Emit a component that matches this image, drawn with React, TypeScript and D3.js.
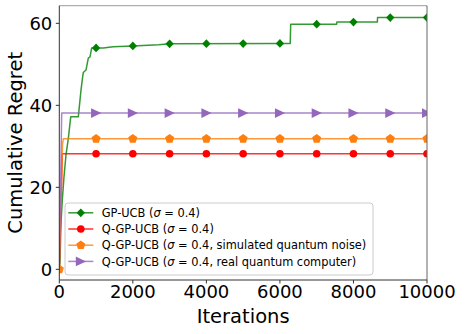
import React from 'react';
import * as d3 from 'd3';

// iterations / cumulative regret
const gpIters = [0, 19, 46, 82, 128, 182, 245, 310, 517, 590, 636, 653, 726, 789, 835, 881, 1000, 1200, 1460, 2000, 2700, 3000, 6000, 6280, 6293, 7544, 7548, 8650, 8655, 10000];
const gpVals = [0, 2, 11.3, 16.9, 22.6, 27.9, 31.9, 37.2, 37.2, 43.7, 47, 48, 48.6, 51.5, 51.8, 54, 54, 54.0, 54.3, 54.5, 54.8, 55.0, 55.1, 55.1, 59.8, 59.8, 60.3, 60.3, 61.4, 61.4];

const qIters = [0, 82, 10000];
const qVals = [0, 28.2, 28.2];

const qSimIters = [0, 87, 110, 10000];
const qSimVals = [0, 30.4, 31.85, 31.85];

const qRealIters = [0, 65, 10000];
const qRealVals = [0, 38.1, 38.1];

const markIters = [0, 1000, 2000, 3000, 4000, 5000, 6000, 7000, 8000, 9000, 10000];

const xTicks = [0, 2000, 4000, 6000, 8000, 10000];
const yTicks = [0, 20, 40, 60];

const labels = [
  ['GP-UCB (', '', ')'],
  ['Q-GP-UCB (', '', ')'],
  ['Q-GP-UCB (', ', simulated quantum noise', ')'],
  ['Q-GP-UCB (', ', real quantum computer', ')'],
];

const series = [
  { iters: gpIters, vals: gpVals, color: '#008000', marker: 'diamond', from: 1000 },
  { iters: qIters, vals: qVals, color: '#ff0000', marker: 'circle', from: 1000 },
  { iters: qSimIters, vals: qSimVals, color: '#ff7f0e', marker: 'pentagon', from: 0 },
  { iters: qRealIters, vals: qRealVals, color: '#9467bd', marker: 'triangle', from: 1000 },
];

const W = 465, H = 334;
const L = 59.3, R = 427, T = 5.7, B = 280;
const x = d3.scaleLinear().domain([0, 10000]).range([L, R]);
const y = d3.scaleLinear().domain([-2.6, 64.3]).range([B, T]);

function valueAt(iters: number[], vals: number[], it: number) {
  for (let i = 1; i < iters.length; i++) {
    if (it <= iters[i]) {
      const t = (it - iters[i - 1]) / (iters[i] - iters[i - 1]);
      return vals[i - 1] + t * (vals[i] - vals[i - 1]);
    }
  }
  return vals[vals.length - 1];
}

function Marker({ kind, cx, cy, color }: any) {
  if (kind === 'circle') return <circle cx={cx} cy={cy} r={3.8} fill={color} />;
  let pts: number[][] = [];
  if (kind === 'diamond') pts = [[0, -4.4], [4.2, 0], [0, 4.4], [-4.2, 0]];
  if (kind === 'pentagon') pts = d3.range(5).map((i) => {
    const a = -Math.PI / 2 + i * 2 * Math.PI / 5;
    return [4.8 * Math.cos(a), 4.8 * Math.sin(a)];
  });
  if (kind === 'triangle') pts = [[5.2, 0], [-5, -4.9], [-5, 4.9]];
  return <polygon points={pts.map((p) => `${cx + p[0]},${cy + p[1]}`).join(' ')} fill={color} />;
}

export default function App() {
  const line = d3.line<number>();
  const font = '"DejaVu Sans", sans-serif';
  const legX = 65, legY = 203, rowY = 212.8, rowStep = 16.2;

  return (
    <svg width={W} height={H} style={{ position: 'absolute', left: 0, top: 0, background: '#fff' }} fontFamily={font}>
      <defs>
        <clipPath id="plot">
          <rect x={L} y={T} width={R - L} height={B - T} />
        </clipPath>
      </defs>

      <g clipPath="url(#plot)">
        {series.map((s, i) => (
          <g key={i}>
            <path
              d={line(s.iters.map((it, j) => [x(it), y(s.vals[j])]) as any) || ''}
              fill="none" stroke={s.color} strokeWidth={1.5} strokeOpacity={0.8} strokeLinejoin="round"
            />
            {markIters.filter((m) => m >= s.from).map((m) => (
              <Marker key={m} kind={s.marker} cx={x(m)} cy={y(valueAt(s.iters, s.vals, m))} color={s.color} />
            ))}
          </g>
        ))}
      </g>

      {/* spines */}
      <line x1={L} x2={R} y1={T} y2={T} stroke="#9a9a9a" strokeWidth={1} />
      <line x1={R} x2={R} y1={T} y2={B} stroke="#666" strokeWidth={1} />
      <line x1={L} x2={L} y1={T} y2={B} stroke="#333" strokeWidth={1} />
      <line x1={L} x2={R} y1={B} y2={B} stroke="#333" strokeWidth={1} />

      {xTicks.map((t) => (
        <g key={t} transform={`translate(${x(t)},${B})`}>
          <line y2={3.5} stroke="#333" />
          <text y={17.5} textAnchor="middle" fontSize={18} fill="#000">{t}</text>
        </g>
      ))}
      {yTicks.map((t) => (
        <g key={t} transform={`translate(${L},${y(t)})`}>
          <line x2={-3.5} stroke="#333" />
          <text x={-7} dy="0.36em" textAnchor="end" fontSize={18} fill="#000">{t}</text>
        </g>
      ))}

      <text x={(L + R) / 2} y={323.3} textAnchor="middle" fontSize={19.5} fill="#000">Iterations</text>
      <text transform={`translate(21.7,${(T + B) / 2}) rotate(-90)`} textAnchor="middle" fontSize={19.5} fill="#000">Cumulative Regret</text>

      {/* legend */}
      <rect x={legX} y={legY} width={308} height={72} rx={3} fill="#fff" fillOpacity={0.8} stroke="#cccccc" strokeWidth={1} />
      {series.map((s, i) => {
        const cy = rowY + i * rowStep;
        return (
          <g key={i}>
            <line x1={68.3} x2={93.3} y1={cy} y2={cy} stroke={s.color} strokeWidth={1.5} strokeOpacity={0.8} />
            <Marker kind={s.marker} cx={80.8} cy={cy} color={s.color} />
            <text x={101.7} y={cy} dy="0.36em" fontSize={11.4} fill="#000">
              {labels[i][0]}
              <tspan fontStyle="italic">σ</tspan>
              {' = 0.4'}
              {labels[i][1]}
              {labels[i][2]}
            </text>
          </g>
        );
      })}
    </svg>
  );
}
